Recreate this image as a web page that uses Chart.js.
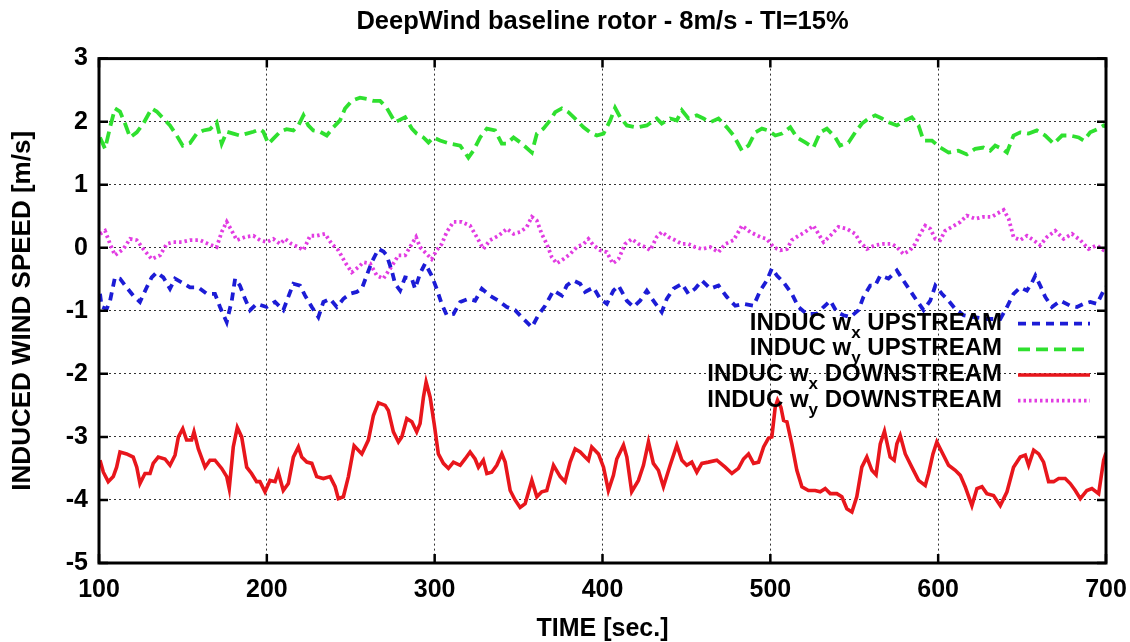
<!DOCTYPE html>
<html>
<head>
<meta charset="utf-8">
<script src="https://cdn.jsdelivr.net/npm/chart.js@4.4.1/dist/chart.umd.min.js"></script>
<style>
  html, body { margin: 0; padding: 0; background: #fff; }
  #wrap { width: 1130px; height: 642px; }
</style>
</head>
<body>
<div id="wrap"><canvas id="windChart" width="1130" height="642"></canvas></div>
<script>
// Thời gian [s] và giá trị [m/s]
const wxUpT = [100.6,101.6,104.6,106.6,109.5,112.5,116.5,120.4,124.4,128.4,131.4,134.4,138.3,142.3,145.3,149.3,154.2,159.2,164.2,169.1,172.1,176.1,179.1,181.1,184,187,190,194,199.9,204.9,209.8,212.8,215.8,219.8,222.8,226.8,230.7,233.7,237.7,241.7,245.6,249.6,253.6,256.6,259.5,262.5,266.5,269.5,271.4,274.4,276.4,279.4,282.4,286.4,288.3,291.3,294.3,298.2,301.2,304.2,307.2,311.2,315.2,320.1,324.1,328.1,333,338,343,347.9,352.9,357.9,361.8,365.8,370.8,375.8,378.7,382.7,386.7,389.6,394.6,398.6,402.6,406.5,409.5,414.5,418.4,422.4,426.4,430.3,435.3,438.3,442.3,447.3,451.2,455.2,459.2,464.2,469.1,474.1,479.1,484,490,494,497.9,500.9,503.9,507.9,512.8,516.8,521.7,527.7,531.7,535.7,539.6,543.6,547.6,552.5,555.5,559.5,562.5,565.5,570.4,575.4,579.3,583.3,587.3,591.3,595.3,598.3,602.2,606.2,610.2,615.1,621.1,629,637,641,644.9,648.9,652.9,655.9,657.9,660.8,663.8,667.8,672.8,678.7,682.7,686.7,690.6,694.6,698.6,700];
const wxUpV = [-0.73,-0.94,-0.97,-0.84,-0.47,-0.49,-0.63,-0.76,-0.86,-0.63,-0.47,-0.39,-0.47,-0.65,-0.49,-0.55,-0.63,-0.63,-0.73,-0.73,-0.94,-1.18,-0.84,-0.49,-0.60,-0.81,-0.99,-0.89,-0.94,-0.86,-0.99,-0.78,-0.57,-0.60,-0.76,-0.94,-1.10,-0.86,-0.81,-0.94,-0.81,-0.73,-0.70,-0.65,-0.44,-0.23,-0.02,-0.06,-0.12,-0.36,-0.57,-0.68,-0.47,-0.49,-0.65,-0.41,-0.25,-0.44,-0.65,-0.89,-1.07,-1.05,-0.86,-0.81,-0.84,-0.65,-0.76,-0.84,-0.94,-0.99,-1.13,-1.26,-1.07,-0.92,-0.68,-0.76,-0.60,-0.52,-0.57,-0.70,-0.63,-0.81,-0.89,-0.68,-0.60,-0.84,-0.94,-0.84,-0.68,-0.84,-1.02,-0.81,-0.65,-0.57,-0.73,-0.65,-0.52,-0.65,-0.60,-0.78,-0.92,-0.89,-0.92,-0.68,-0.52,-0.33,-0.44,-0.55,-0.73,-0.94,-1.05,-1.05,-0.94,-0.84,-1.02,-1.07,-1.10,-0.99,-0.78,-0.60,-0.60,-0.44,-0.49,-0.36,-0.52,-0.68,-0.84,-0.99,-0.84,-0.60,-0.73,-0.84,-0.97,-1.07,-1.10,-1.13,-1.13,-0.94,-0.73,-0.63,-0.68,-0.55,-0.44,-0.60,-0.78,-0.94,-0.84,-0.92,-0.94,-0.89,-0.86,-0.89,-0.68,-0.62];

const wyUpT = [100.6,103.6,106.6,109.5,112.5,115.5,118.5,122.5,126.4,131.4,134.4,138.3,142.3,146.3,149.9,154.2,158.2,162.2,166.1,170.1,173.1,176.1,180,184,188,192,195.9,197.9,200.9,203.9,207.9,211.8,215.8,218.8,221.8,224.7,227.7,231.7,235.7,239.6,243.6,246.6,250.6,255.5,259.5,263.5,267.5,271.4,276.4,282.4,286.4,289.3,293.3,296.3,299.2,303.2,309.2,315.2,320.1,323.1,327.1,331.1,336,340,343,347,352,357.9,360.9,364.8,368.8,371.8,375.8,379.7,384.7,388.7,392.6,396.6,400.6,404.6,407.5,410.5,414.5,420.4,426.4,432.3,435.3,440.3,444.3,447.3,451.2,456.2,460.2,464.2,469.1,474.1,478.1,483.1,487,491,495,498.9,503,506.9,511.9,515.8,520.8,525.7,529.7,533.7,538.7,541.6,546.6,550.6,554.6,558.5,562.5,566.5,570.4,575.4,580.4,584.3,588.3,591.3,596.3,601.2,606.2,612.1,617.1,622.1,627,631,634,638,641,644.9,648.9,653.9,658.8,663.8,668.8,673.8,678.7,683.7,686.7,690.6,695.6,698.6,700];
const wyUpV = [1.75,1.57,1.91,2.21,2.16,1.97,1.75,1.83,1.97,2.21,2.16,2.05,1.94,1.78,1.62,1.66,1.81,1.86,1.88,1.99,1.65,1.84,1.81,1.78,1.81,1.84,1.88,1.84,1.65,1.73,1.84,1.88,1.86,1.94,2.10,1.94,1.86,1.84,1.78,1.91,2.02,2.21,2.33,2.38,2.36,2.33,2.33,2.22,1.99,2.07,1.89,1.81,1.75,1.67,1.75,1.70,1.65,1.62,1.43,1.54,1.75,1.89,1.86,1.65,1.65,1.75,1.65,1.51,1.81,1.89,2.02,2.15,2.21,2.15,2.02,1.91,1.83,1.78,1.81,2.02,2.22,2.07,1.94,1.91,1.94,2.05,1.97,2.05,2.02,2.18,2.05,2.10,2.05,1.99,2.05,1.91,1.78,1.54,1.62,1.83,1.89,1.86,1.78,1.81,1.91,1.75,1.67,1.59,1.83,1.89,1.75,1.62,1.67,1.83,1.97,2.05,2.10,2.05,1.99,1.94,2.02,2.07,1.94,1.70,1.70,1.59,1.51,1.54,1.48,1.57,1.59,1.54,1.62,1.57,1.51,1.78,1.83,1.81,1.86,1.78,1.65,1.78,1.78,1.75,1.70,1.83,1.89,1.94,1.92];

const wxDownT = [100.6,102.6,105.5,108.5,110.5,112.5,116.5,120.4,122.5,124.4,127.4,130.4,132.3,135.3,139.3,142.3,145.3,147.3,149.9,152.2,155.2,156.6,159.2,163.2,166.1,169.1,173.1,176.1,177.6,180,182.4,185,188,190.9,193.9,195.9,198.9,201.9,204.9,206.8,209.8,212.8,215.8,218.8,220.8,223.8,226.8,229.7,233.7,237.7,240.7,242.6,245.6,248.6,252,256.6,260.5,263.5,266.5,270.5,272.4,275.4,278.4,280.4,283.4,286.4,289.3,291.3,293.3,294.9,297.3,299.7,302.2,305.2,308.2,311.2,315.2,318.1,321.1,324.1,326.1,329,331.1,334,337,340,342,345,347.9,350.9,353.9,357.9,360.9,363.8,366.8,370.8,374.8,377.7,380.7,383.7,386.7,389.6,391.6,393.6,397.6,400.6,403.5,406.5,408.5,412.5,414.5,417.4,421.4,424.4,427.4,430.3,433.3,436.3,440.3,444.3,447.3,450.2,453.2,456.2,459.2,463.1,468.1,473.1,477.1,481,484,487,490,493,496,498.9,500.9,502.9,504.3,506.3,507.9,509.9,512.8,515.8,518.8,522.7,526.7,529.7,532.7,535.7,539.6,542.6,545.6,548.6,551.5,554.5,557.5,560.5,563,565.5,568,571.4,573.8,575.4,577.4,580.4,584.3,588.3,592.3,594.3,596.9,599.2,602.2,606.2,610.2,613.2,616.1,620.1,623.1,626.1,629,633,637,641,644.9,648.9,651.9,653.9,656.9,659.9,662.8,665.8,668.8,671.8,675.7,678.7,681.7,684.7,688.6,691.6,695.6,698.6,700];
const wxDownV = [-3.37,-3.56,-3.71,-3.63,-3.48,-3.24,-3.27,-3.32,-3.48,-3.74,-3.58,-3.58,-3.42,-3.32,-3.35,-3.45,-3.29,-3.00,-2.87,-3.05,-3.05,-2.92,-3.19,-3.48,-3.37,-3.37,-3.50,-3.63,-3.82,-3.16,-2.85,-3.00,-3.48,-3.58,-3.71,-3.71,-3.87,-3.69,-3.71,-3.56,-3.85,-3.74,-3.32,-3.16,-3.32,-3.40,-3.42,-3.63,-3.66,-3.63,-3.79,-3.98,-3.95,-3.63,-3.14,-3.27,-3.05,-2.66,-2.46,-2.50,-2.58,-2.92,-3.08,-3.00,-2.71,-2.76,-2.92,-2.79,-2.37,-2.13,-2.37,-2.79,-3.27,-3.42,-3.50,-3.40,-3.45,-3.35,-3.24,-3.35,-3.48,-3.37,-3.58,-3.56,-3.45,-3.27,-3.40,-3.85,-4.00,-4.12,-4.06,-3.69,-3.95,-3.87,-3.85,-3.45,-3.63,-3.71,-3.40,-3.19,-3.24,-3.32,-3.37,-3.16,-3.27,-3.48,-3.85,-3.61,-3.35,-3.13,-3.32,-3.87,-3.69,-3.45,-3.08,-3.42,-3.53,-3.79,-3.45,-3.13,-3.37,-3.45,-3.40,-3.56,-3.42,-3.40,-3.37,-3.48,-3.58,-3.50,-3.35,-3.27,-3.42,-3.40,-3.16,-3.02,-3.00,-2.53,-2.42,-2.53,-2.74,-2.76,-3.11,-3.53,-3.79,-3.85,-3.85,-3.87,-3.82,-3.90,-3.90,-3.95,-4.14,-4.19,-3.95,-3.48,-3.32,-3.53,-3.60,-3.11,-2.91,-3.32,-3.37,-3.11,-2.98,-3.27,-3.48,-3.69,-3.77,-3.58,-3.27,-3.08,-3.24,-3.45,-3.53,-3.61,-3.79,-4.09,-3.82,-3.79,-3.90,-3.93,-4.09,-3.87,-3.48,-3.32,-3.29,-3.45,-3.21,-3.27,-3.40,-3.71,-3.71,-3.66,-3.66,-3.74,-3.85,-3.98,-3.85,-3.82,-3.90,-3.37,-3.25];

const wyDownT = [100.6,103.6,106.6,109.5,114.5,118.5,122.5,126.4,131.4,136.4,140.3,144.3,149.3,154.2,160.2,165.1,170.1,173.1,176.1,179.1,182.1,187,192,196,199.9,203.9,207.9,210.9,214.8,218.8,221.8,225.8,229.7,234.7,238.7,242.6,246.6,250.6,254.5,257.5,261.5,265.5,269.4,274,278.4,282.4,286.4,288.9,291.3,295.3,298.2,301.2,304.2,307.2,311.2,316.1,321.1,325.1,329,333,338,343,347,350.9,354.9,357.9,360.9,363.8,366.8,369.8,372.7,376.7,380.7,384.7,388.7,391.6,394.6,398.6,402.6,406.1,409.5,413.5,417.4,421.4,425.4,428.4,432.3,435.3,439.3,443.3,447.3,451.2,455.2,459.2,464.2,469.1,473.1,478.1,483.1,488,494,497.9,501.9,505.9,509.9,512.8,516.8,520.8,525.7,528.7,531.7,535.7,540.6,545.6,550.6,553.5,557.5,562.5,567.4,572.4,575.4,579.3,583.3,586.3,589.3,592.3,595.3,598.3,601.2,604.2,608.2,613.2,617.1,622.1,627,632,635,639,642,644.9,648.9,652.9,656.9,660.8,664.8,669.8,674.7,679.7,684.7,689.6,694.6,698.6,700];
const wyDownV = [0.22,0.27,0.06,-0.12,-0.02,0.14,0.12,-0.02,-0.18,-0.12,0.06,0.09,0.09,0.12,0.12,0.06,0.01,0.25,0.41,0.27,0.12,0.17,0.19,0.12,0.09,0.14,0.06,0.14,0.06,0.01,-0.04,0.19,0.19,0.22,0.06,-0.04,-0.23,-0.39,-0.31,-0.23,-0.25,-0.44,-0.49,-0.31,-0.12,-0.12,0.06,0.17,0.01,-0.10,-0.18,-0.04,0.06,0.25,0.41,0.41,0.35,0.17,-0.02,0.12,0.19,0.30,0.22,0.25,0.33,0.49,0.43,0.22,0.06,-0.15,-0.25,-0.18,-0.10,0.01,0.06,0.14,0.04,-0.04,-0.07,-0.25,-0.18,0.06,0.14,0.06,0.01,-0.04,0.17,0.25,0.17,0.12,0.06,0.06,0.01,-0.02,0.01,-0.07,0.06,0.12,0.35,0.25,0.17,0.14,0.01,-0.04,-0.02,0.12,0.19,0.25,0.35,0.22,0.09,0.19,0.33,0.30,0.22,0.09,-0.02,0.04,0.06,0.06,0.01,-0.10,-0.04,0.06,0.22,0.35,0.30,0.14,0.12,0.27,0.33,0.41,0.51,0.46,0.49,0.49,0.54,0.60,0.46,0.17,0.12,0.19,0.12,0.04,0.17,0.27,0.14,0.22,0.12,-0.02,0.04,-0.04,-0.05];

const xTicks = [100, 200, 300, 400, 500, 600, 700];
const yTicks = [-5, -4, -3, -2, -1, 0, 1, 2, 3];

// Nhãn chú thích: [phần đầu, chỉ số dưới, phần sau]
const legendLabels = [
  ['INDUC w', 'x', ' UPSTREAM'],
  ['INDUC w', 'y', ' UPSTREAM'],
  ['INDUC w', 'x', ' DOWNSTREAM'],
  ['INDUC w', 'y', ' DOWNSTREAM']
];

const FONT = '"Liberation Sans", Arial, Helvetica, sans-serif';

function toPoints(ts, vs) {
  return ts.map((t, i) => ({ x: t, y: vs[i] }));
}

const seriesStyle = [
  { color: '#1c1cd6', dash: [8, 6], width: 3.8 },
  { color: '#2fe02f', dash: [12, 6], width: 3.8 },
  { color: '#e8161c', dash: [], width: 3.6 },
  { color: '#e23ce2', dash: [2.5, 3], width: 3.8 }
];

// Vẽ khung, vạch chia hướng vào trong và chú thích
const framePlugin = {
  id: 'frame',
  afterDatasetsDraw(chart) {
    const { ctx, chartArea: a, scales } = chart;
    ctx.save();
    ctx.strokeStyle = '#000';
    ctx.lineWidth = 2.5;
    ctx.setLineDash([]);
    const tl = 9;
    ctx.beginPath();
    xTicks.forEach(v => {
      const px = scales.x.getPixelForValue(v);
      ctx.moveTo(px, a.bottom); ctx.lineTo(px, a.bottom - tl);
      ctx.moveTo(px, a.top); ctx.lineTo(px, a.top + tl);
    });
    yTicks.forEach(v => {
      const py = scales.y.getPixelForValue(v);
      ctx.moveTo(a.left, py); ctx.lineTo(a.left + tl, py);
      ctx.moveTo(a.right, py); ctx.lineTo(a.right - tl, py);
    });
    ctx.stroke();
    ctx.lineWidth = 3;
    ctx.strokeRect(a.left, a.top, a.right - a.left, a.bottom - a.top);

    // Chú thích
    const textRight = a.right - 104;
    const lineX0 = a.right - 88, lineX1 = a.right - 16;
    const baseY0 = a.top + 271, rowH = 25.7;
    const mainFont = 'bold 24px ' + FONT;
    const subFont = 'bold 17px ' + FONT;
    legendLabels.forEach((parts, i) => {
      const by = baseY0 + i * rowH;
      ctx.font = mainFont;
      const w0 = ctx.measureText(parts[0]).width;
      const w2 = ctx.measureText(parts[2]).width;
      ctx.font = subFont;
      const w1 = ctx.measureText(parts[1]).width;
      let x = textRight - (w0 + w1 + w2);
      ctx.fillStyle = '#000';
      ctx.textBaseline = 'alphabetic';
      ctx.textAlign = 'left';
      ctx.font = mainFont;
      ctx.fillText(parts[0], x, by);
      x += w0;
      ctx.font = subFont;
      ctx.fillText(parts[1], x, by + 8);
      x += w1;
      ctx.font = mainFont;
      ctx.fillText(parts[2], x, by);

      const st = seriesStyle[i];
      ctx.strokeStyle = st.color;
      ctx.lineWidth = st.width;
      ctx.setLineDash(st.dash);
      ctx.beginPath();
      ctx.moveTo(lineX0, by - 6);
      ctx.lineTo(lineX1, by - 6);
      ctx.stroke();
    });
    ctx.restore();
  }
};

function makeDataset(label, ts, vs, st) {
  return {
    label: label,
    data: toPoints(ts, vs),
    borderColor: st.color,
    borderWidth: st.width,
    borderDash: st.dash,
    pointRadius: 0,
    tension: 0,
    fill: false
  };
}

function initChart() {
  const ctx = document.getElementById('windChart').getContext('2d');
  new Chart(ctx, {
    type: 'line',
    data: {
      datasets: [
        makeDataset('INDUC wx UPSTREAM', wxUpT, wxUpV, seriesStyle[0]),
        makeDataset('INDUC wy UPSTREAM', wyUpT, wyUpV, seriesStyle[1]),
        makeDataset('INDUC wx DOWNSTREAM', wxDownT, wxDownV, seriesStyle[2]),
        makeDataset('INDUC wy DOWNSTREAM', wyDownT, wyDownV, seriesStyle[3])
      ]
    },
    options: {
      responsive: false,
      animation: false,
      layout: { padding: { left: 0, right: 24, top: 0, bottom: 0 } },
      plugins: {
        legend: { display: false },
        tooltip: { enabled: false },
        title: {
          display: true,
          fullSize: false,
          text: 'DeepWind baseline rotor - 8m/s - TI=15%',
          color: '#000',
          font: { family: FONT, size: 25.5, weight: 'bold' },
          padding: { top: 7, bottom: 21 }
        }
      },
      scales: {
        x: {
          type: 'linear',
          min: 100,
          max: 700,
          afterBuildTicks(scale) { scale.ticks = xTicks.map(v => ({ value: v })); },
          afterFit(scale) {
            scale.height = 79;
            scale.paddingLeft = 0;
            scale.paddingRight = 0;
          },
          ticks: {
            color: '#000',
            font: { family: FONT, size: 25, weight: 'bold' },
            padding: 12,
            maxRotation: 0
          },
          grid: { color: '#333', lineWidth: 1, drawTicks: false },
          border: { display: false, dash: [2, 3] },
          title: {
            display: true,
            text: 'TIME [sec.]',
            color: '#000',
            font: { family: FONT, size: 25, weight: 'bold' },
            padding: { top: 0, bottom: -2 }
          }
        },
        y: {
          type: 'linear',
          min: -5,
          max: 3,
          afterBuildTicks(scale) { scale.ticks = yTicks.map(v => ({ value: v })); },
          afterFit(scale) {
            scale.width = 99;
            scale.paddingTop = 0;
            scale.paddingBottom = 0;
          },
          ticks: {
            color: '#000',
            font: { family: FONT, size: 25, weight: 'bold' },
            padding: 11
          },
          grid: { color: '#333', lineWidth: 1, drawTicks: false },
          border: { display: false, dash: [2, 3] },
          title: {
            display: true,
            text: 'INDUCED WIND SPEED [m/s]',
            color: '#000',
            font: { family: FONT, size: 26, weight: 'bold' },
            padding: { top: 7, bottom: 0 }
          }
        }
      }
    },
    plugins: [framePlugin]
  });
}

if (document.readyState === 'loading') {
  document.addEventListener('DOMContentLoaded', initChart);
} else {
  initChart();
}
</script>
</body>
</html>
